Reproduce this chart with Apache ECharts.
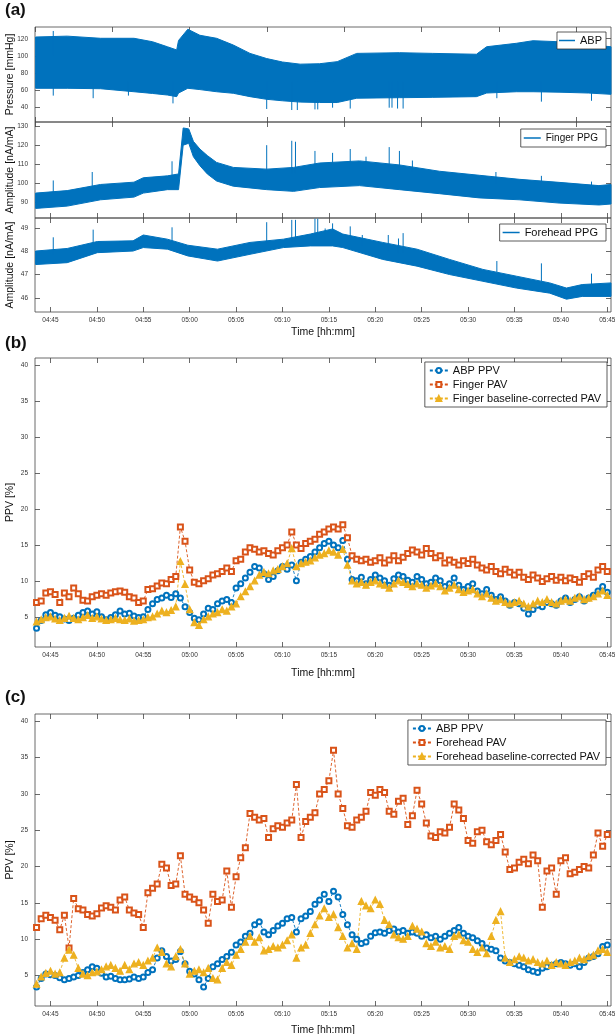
<!DOCTYPE html>
<html>
<head>
<meta charset="utf-8">
<script src="https://cdn.jsdelivr.net/npm/echarts@6/dist/echarts.min.js"></script>
<style>
  html, body { margin: 0; padding: 0; background: #fff; }
  #chart { width: 615px; height: 1034px; }
</style>
</head>
<body>
<div id="chart"></div>
<script>
// all times are minutes after midnight (04:45 -> 285)
const tStart = 283.333, tEnd = 345.4;
const clockTicks = [285, 290, 295, 300, 305, 310, 315, 320, 325, 330, 335, 340, 345];
const coarseTicks = [283.333, 291.667, 300, 308.333, 316.667, 325, 333.333, 341.667];

// (a) raw signals: upper / lower envelope of the dense waveforms
const abpTime  = [283.4, 286.8, 290.4, 294.0, 296.0, 297.6, 298.6, 298.8, 299.8, 301.1, 302.9, 304.7, 306.5, 308.3, 310.0, 311.9, 314.0, 315.9, 318.0, 322.6, 326.2, 330.9, 332.0, 335.2, 337.0, 339.8, 343.0, 345.4];
const abpUpper = [122, 123, 120.5, 120.5, 116.5, 110.7, 107, 118, 131, 124, 120.5, 112.7, 103, 97, 93, 90.5, 91, 93.4, 103, 103.8, 103, 102, 110.7, 114.7, 117.7, 116.5, 113, 110.7];
const abpLower = [62.5, 62.5, 62, 58.5, 56.5, 54.7, 52.8, 57, 62.5, 61, 58.5, 56.7, 52.8, 49.7, 48, 46.5, 46, 46, 51, 51.6, 52, 52.8, 57, 58.5, 58.5, 58, 57, 55.5];
// spikes: [time, from, to]
const abpSpikes = [[285.3, 100, 129], [285.3, 70, 54], [289.6, 70, 51], [293.4, 70, 54], [298.2, 70, 45], [308.3, 70, 38.5], [311.0, 70, 37.3], [311.6, 70, 37.3], [313.5, 70, 38], [313.8, 70, 38], [315.4, 70, 40], [317.3, 70, 39], [321.5, 70, 40], [321.8, 70, 40], [322.4, 70, 39], [323.0, 70, 39], [333.1, 70, 51], [337.9, 70, 47], [343.3, 70, 48]];

const fingerTime  = [283.4, 286.8, 290.4, 294.0, 295.0, 297.6, 298.8, 299.3, 299.9, 300.4, 301.1, 301.9, 302.9, 304.7, 308.3, 311.2, 314.0, 318.3, 322.6, 326.9, 331.2, 335.5, 339.8, 344.1, 345.4];
const fingerUpper = [95, 96.3, 99.5, 100.7, 103, 104, 105, 129, 128.5, 122, 118, 114.6, 111, 108.4, 107.5, 108.4, 110.7, 111.8, 109.7, 106.4, 104.3, 102.2, 100.6, 98.9, 99.5];
const fingerLower = [87, 88.2, 91.5, 92.9, 95, 96.8, 96.8, 120, 121, 114, 109.3, 105, 101.3, 98.6, 96.8, 95.9, 97.9, 98.9, 96.8, 94.7, 92.5, 91.5, 89.8, 88.8, 89.3];
const fingerSpikes = [[285.3, 94, 101.6], [289.5, 97, 106], [298.1, 102, 111.6], [308.3, 105, 120], [311.0, 105, 122.3], [311.4, 105, 121.8], [313.5, 108, 117], [315.4, 108, 116], [317.3, 108, 118], [319.0, 108, 114], [321.5, 106, 119], [322.6, 106, 117], [324.0, 106, 112], [333.0, 100, 106], [337.9, 98, 104], [343.3, 96, 101]];

const foreheadTime  = [283.4, 286.8, 290.05, 293.9, 295.0, 297.6, 299.8, 303.0, 306.5, 310.1, 313.0, 315.4, 316.5, 320.8, 324.5, 328.0, 331.6, 335.2, 338.8, 340.6, 342.3, 345.4];
const foreheadUpper = [48.01, 48.12, 48.42, 48.45, 48.7, 48.52, 48.26, 48.09, 48.38, 48.52, 48.74, 48.96, 48.74, 48.38, 48.09, 47.65, 47.22, 46.93, 46.64, 46.42, 46.57, 46.64];
const foreheadLower = [47.43, 47.51, 47.94, 48.01, 48.16, 48.09, 47.8, 47.58, 47.87, 48.16, 48.23, 48.23, 48.16, 47.65, 47.36, 47.0, 46.71, 46.42, 46.2, 45.94, 46.06, 46.06];
const foreheadSpikes = [[285.3, 47.8, 48.6], [289.6, 48.2, 48.93], [298.1, 48.3, 49.03], [308.3, 48.3, 49.25], [311.0, 48.4, 49.35], [311.4, 48.4, 49.35], [313.5, 48.5, 49.4], [313.8, 48.5, 49.4], [314.6, 48.5, 48.98], [315.4, 48.5, 49.2], [317.3, 48.4, 49.07], [318.6, 48.2, 48.7], [321.4, 48.0, 48.7], [322.5, 47.9, 48.55], [323.0, 47.9, 48.78], [333.1, 47.1, 47.58], [337.9, 46.7, 47.48], [343.3, 46.3, 47.04]];

// (b), (c) variation indices, one value every 30 s from 04:43:30
const ppvStart = 283.5, ppvStep = 0.5;
const abpPpvB = [3.4, 4.5, 5.3, 5.6, 5.2, 5.0, 4.7, 4.5, 4.8, 5.2, 5.6, 5.8, 5.4, 5.7, 5.0, 4.6, 4.9, 5.3, 5.8, 5.4, 5.5, 5.1, 4.9, 5.0, 6.0, 6.8, 7.4, 7.6, 8.0, 7.7, 8.2, 7.6, 6.4, 5.6, 4.8, 4.6, 5.4, 6.2, 6.0, 6.8, 7.2, 7.4, 7.0, 9.0, 9.6, 10.4, 11.2, 12.0, 11.8, 11.0, 10.2, 10.6, 11.4, 12.0, 11.6, 12.2, 10.0, 12.6, 13.0,
  13.4, 14.0, 14.6, 15.2, 15.5, 15.0, 14.6, 15.6, 13.0, 10.2, 10.0, 10.5, 9.6, 10.2, 10.8, 10.4, 10.0, 9.4, 10.3, 10.8, 10.6, 10.1, 9.8, 10.6, 10.2, 9.6, 9.8, 10.4, 10.0, 9.2, 9.6, 10.4, 9.4, 8.8, 9.2, 9.6, 8.6, 8.2, 8.8, 8.0, 7.4, 7.8, 7.2, 6.6, 7.0, 6.8, 6.2, 5.4, 6.0, 6.6, 6.4, 7.0, 6.8, 6.6, 7.2, 7.6, 7.0, 7.4, 7.8, 7.2, 7.6, 8.0, 8.6, 9.2, 8.4];
const fingerPav = [7.0, 7.2, 8.3, 8.5, 8.1, 7.0, 8.3, 7.8, 9.0, 8.2, 7.3, 7.2, 7.8, 8.0, 8.2, 8.0, 8.3, 8.5, 8.6, 8.4, 7.8, 7.6, 7.0, 7.2, 8.8, 8.9, 9.3, 9.7, 9.6, 10.2, 10.6, 17.5, 15.5, 11.5, 9.8, 9.6, 10.0, 10.3, 10.8, 11.0, 11.3, 11.8, 11.3, 12.8, 13.0, 14.0, 14.6, 14.4, 14.0, 14.2, 13.8, 13.6, 14.2, 14.6, 15.0, 16.8, 15.0, 14.5, 15.2,
  15.5, 15.8, 16.5, 16.8, 17.2, 17.5, 17.2, 17.8, 16.0, 13.5, 13.0, 12.8, 13.0, 12.6, 12.8, 13.2, 12.5, 12.9, 13.5, 12.8, 13.3, 13.8, 14.3, 14.0, 13.6, 14.5, 13.8, 13.2, 13.5, 12.5, 12.9, 12.6, 12.2, 12.8, 12.4, 13.0, 12.2, 11.8, 11.5, 12.0, 11.3, 11.0, 11.6, 11.2, 10.8, 11.2, 10.5, 10.2, 10.8, 10.4, 9.9, 10.3, 10.6, 10.1, 10.5, 10.0, 10.4, 10.2, 9.8, 10.6, 11.0, 10.5, 11.5, 12.0, 11.3];
const fingerCorr = [4.3, 4.6, 4.9, 5.0, 4.7, 4.5, 4.8, 5.1, 4.8, 4.6, 4.9, 5.2, 4.8, 5.0, 4.7, 4.5, 4.6, 4.8, 4.6, 4.5, 4.7, 4.4, 4.5, 4.6, 4.9, 5.0, 5.4, 5.8, 5.6, 5.9, 6.4, 12.7, 9.5, 6.0, 4.2, 3.8, 4.6, 5.0, 5.4, 5.6, 6.0, 5.8, 6.4, 6.8, 7.8, 8.5, 9.2, 10.0, 10.8, 11.2, 11.0, 11.4, 11.6, 12.0, 12.4, 14.5, 12.0, 12.4, 12.6,
  12.8, 13.2, 13.6, 13.8, 14.2, 14.0, 13.6, 14.4, 12.2, 10.0, 9.6, 9.8, 9.4, 9.8, 10.0, 9.6, 9.4, 9.0, 9.6, 10.0, 9.8, 9.5, 9.2, 9.6, 9.4, 9.0, 9.3, 9.6, 9.2, 8.6, 9.0, 9.4, 8.8, 8.4, 8.6, 8.8, 8.2, 7.8, 8.2, 7.6, 7.2, 7.4, 7.0, 6.8, 7.0, 7.2, 6.8, 6.4, 6.8, 7.2, 7.0, 7.4, 7.0, 6.8, 7.2, 7.4, 7.2, 7.6, 7.8, 7.4, 7.6, 7.8, 8.2, 8.6, 8.0];

const abpPpvC = [3.4, 4.6, 5.2, 5.1, 5.0, 4.7, 4.4, 4.6, 4.8, 5.0, 5.4, 5.8, 6.2, 6.0, 5.3, 4.8, 4.9, 4.6, 4.4, 4.4, 4.5, 4.8, 4.6, 4.8, 5.4, 5.8, 7.4, 8.4, 7.6, 7.0, 7.2, 8.3, 6.6, 5.6, 5.2, 4.4, 3.4, 4.6, 6.2, 6.6, 7.2, 7.6, 8.2, 9.2, 9.6, 10.4, 10.8, 12.0, 12.4, 11.0, 10.6, 11.2, 11.8, 12.2, 12.8, 13.0, 11.0, 12.8, 13.2,
  13.8, 14.8, 15.4, 16.2, 15.2, 16.6, 15.8, 13.4, 12.0, 10.6, 10.0, 9.4, 9.6, 10.4, 10.9, 11.0, 10.8, 11.2, 11.4, 11.0, 11.2, 10.8, 11.0, 10.8, 10.4, 10.6, 10.2, 10.4, 10.0, 10.4, 10.8, 11.2, 11.6, 10.8, 10.4, 10.2, 9.8, 9.4, 8.8, 8.6, 8.4, 7.4, 7.0, 6.8, 6.6, 6.4, 6.2, 5.8, 5.6, 5.4, 6.0, 6.2, 6.4, 6.6, 6.8, 6.6, 6.4, 6.6, 6.2, 6.8, 7.4, 7.6, 8.0, 9.0, 9.2];
const foreheadPav = [11.6, 12.8, 13.3, 13.0, 12.6, 11.3, 13.3, 8.8, 15.6, 14.2, 14.0, 13.4, 13.2, 13.5, 14.3, 14.6, 14.4, 14.0, 15.4, 15.8, 14.0, 13.6, 13.4, 11.6, 16.4, 17.0, 17.6, 20.3, 19.8, 17.4, 17.6, 21.5, 16.2, 15.8, 15.5, 15.0, 14.0, 12.2, 16.2, 15.2, 15.4, 19.4, 14.4, 18.6, 21.2, 22.6, 27.3, 26.8, 26.4, 26.6, 24.0, 25.2, 25.6, 25.4, 26.0, 26.4, 31.3, 24.0, 26.2,
  26.8, 27.4, 30.0, 30.6, 31.8, 36.0, 30.0, 28.0, 25.6, 25.4, 26.4, 26.8, 27.6, 30.2, 29.8, 30.6, 30.2, 27.6, 27.2, 29.0, 29.4, 25.8, 27.0, 30.5, 28.6, 26.0, 24.2, 24.0, 24.8, 24.6, 25.4, 28.6, 27.8, 26.6, 23.6, 23.2, 24.8, 25.0, 23.4, 23.0, 23.6, 24.4, 22.0, 19.6, 19.8, 20.6, 21.0, 20.4, 21.6, 20.8, 14.4, 19.4, 19.8, 16.2, 20.8, 21.2, 19.0, 19.2, 19.6, 20.0, 19.8, 21.6, 24.6, 22.8, 24.4];
const foreheadCorr = [3.8, 4.8, 5.3, 5.6, 5.2, 5.4, 7.4, 8.5, 7.8, 6.0, 5.2, 5.0, 5.4, 5.5, 5.8, 6.2, 6.4, 6.0, 5.6, 6.4, 5.8, 6.6, 6.8, 6.4, 7.0, 7.4, 8.8, 8.2, 6.6, 6.2, 7.6, 8.6, 6.6, 5.2, 5.6, 5.8, 5.4, 6.0, 4.6, 4.4, 6.0, 6.8, 6.4, 7.8, 8.6, 9.6, 10.4, 9.6, 10.2, 8.4, 8.6, 9.0, 8.8, 9.2, 9.8, 10.6, 7.4, 8.8, 9.2,
  10.8, 12.0, 13.2, 14.2, 13.0, 13.4, 11.6, 10.4, 8.8, 9.4, 8.6, 15.2, 14.6, 14.2, 15.4, 14.8, 12.6, 12.0, 10.6, 10.2, 10.0, 10.4, 11.8, 11.4, 11.0, 9.4, 9.0, 9.6, 8.8, 9.0, 8.6, 10.4, 10.6, 9.8, 9.6, 8.6, 8.2, 8.8, 8.0, 10.4, 12.6, 13.8, 7.4, 6.8, 7.2, 7.6, 7.4, 7.0, 7.2, 6.8, 6.6, 7.0, 6.4, 6.8, 6.6, 6.4, 6.8, 7.0, 7.4, 7.2, 7.6, 7.8, 8.4, 8.6, 8.2];

const BLUE = '#0072BD', ORANGE = '#D95319', YELLOW = '#EDB120';
const FONT = '"Liberation Sans", Arial, sans-serif';

const pad = n => (n < 10 ? '0' : '') + n;
const clock = v => {
  const h = Math.floor(v / 60);
  const m = Math.round(v - h * 60);
  return pad(h) + ':' + pad(m);
};
const zip = (xs, ys) => xs.map((x, i) => [x, ys[i]]);
const ppvTime = abpPpvB.map((_, i) => ppvStart + i * ppvStep);

const grids = [
  { left: 35, top: 27, width: 576, height: 95 },
  { left: 35, top: 122, width: 576, height: 96 },
  { left: 35, top: 218, width: 576, height: 94 },
  { left: 35, top: 358, width: 576, height: 289 },
  { left: 35, top: 714, width: 576, height: 292 }
].map(g => ({
  ...g, show: true, containLabel: false, outerBoundsMode: 'none',
  borderColor: '#444', borderWidth: 0.8, backgroundColor: 'transparent'
}));

const yRanges = [
  { min: 23.4, max: 133.6, ticks: [40, 60, 80, 100, 120], name: 'Pressure [mmHg]' },
  { min: 82, max: 132.1, ticks: [90, 100, 110, 120, 130], name: 'Amplitude [nA/mA]' },
  { min: 45.39, max: 49.43, ticks: [46, 47, 48, 49], name: 'Amplitude [nA/mA]' },
  { min: 0.8, max: 41, ticks: [5, 10, 15, 20, 25, 30, 35, 40], name: 'PPV [%]' },
  { min: 0.8, max: 41, ticks: [5, 10, 15, 20, 25, 30, 35, 40], name: 'PPV [%]' }
];
const xTicks = [
  [coarseTicks, coarseTicks],
  [coarseTicks, clockTicks],
  [clockTicks, clockTicks],
  [clockTicks, clockTicks],
  [clockTicks, clockTicks]
];
const xLabelled = [false, false, true, true, true];
const timeNameGap = [0, 0, 15, 21, 19];

const xAxis = [];
const yAxis = [];
grids.forEach((g, i) => {
  const bottom = {
    type: 'value', gridIndex: i, position: 'bottom', min: tStart, max: tEnd,
    axisLine: { show: false }, splitLine: { show: false },
    axisTick: { show: true, inside: true, length: 5, customValues: xTicks[i][1], lineStyle: { color: '#444', width: 0.8 } },
    axisLabel: { show: xLabelled[i], customValues: clockTicks, formatter: clock, fontSize: 6.5, color: '#333', fontFamily: FONT, margin: 5 }
  };
  if (xLabelled[i]) {
    bottom.name = 'Time [hh:mm]';
    bottom.nameLocation = 'middle';
    bottom.nameGap = timeNameGap[i];
    bottom.nameMoveOverlap = false;
    bottom.nameTextStyle = { fontSize: 10.5, color: '#111', fontFamily: FONT };
  }
  xAxis.push(bottom);
  xAxis.push({
    type: 'value', gridIndex: i, position: 'top', min: tStart, max: tEnd,
    axisLine: { show: false }, splitLine: { show: false }, axisLabel: { show: false },
    axisTick: { show: true, inside: true, length: 5, customValues: xTicks[i][0], lineStyle: { color: '#444', width: 0.8 } }
  });
  const r = yRanges[i];
  yAxis.push({
    type: 'value', gridIndex: i, position: 'left', min: r.min, max: r.max,
    name: r.name, nameLocation: 'middle', nameGap: 19, nameMoveOverlap: false,
    nameTextStyle: { fontSize: 10.5, color: '#111', fontFamily: FONT },
    axisLine: { show: false }, splitLine: { show: false },
    axisTick: { show: true, inside: true, length: 5, customValues: r.ticks, lineStyle: { color: '#444', width: 0.8 } },
    axisLabel: { customValues: r.ticks, fontSize: 6.5, color: '#333', fontFamily: FONT, margin: 7 }
  });
  yAxis.push({
    type: 'value', gridIndex: i, position: 'right', min: r.min, max: r.max,
    axisLine: { show: false }, splitLine: { show: false }, axisLabel: { show: false },
    axisTick: { show: true, inside: true, length: 5, customValues: r.ticks, lineStyle: { color: '#444', width: 0.8 } }
  });
});

// filled band between lower and upper envelope, drawn as one polygon
const bandSeries = (name, idx, time, upper, lower) => ({
  name, type: 'custom', xAxisIndex: 2 * idx, yAxisIndex: 2 * idx, silent: true, animation: false,
  itemStyle: { color: BLUE },
  encode: { x: 0, y: [1, 2] },
  data: time.map((t, i) => [t, lower[i], upper[i]]),
  renderItem: (params, api) => {
    if (params.dataIndexInside !== 0) return null;
    const n = params.dataInsideLength;
    const top = [], bottom = [];
    for (let k = 0; k < n; k++) {
      const t = api.value(0, k);
      top.push(api.coord([t, api.value(2, k)]));
      bottom.push(api.coord([t, api.value(1, k)]));
    }
    return {
      type: 'polygon',
      shape: { points: top.concat(bottom.reverse()) },
      style: { fill: BLUE, stroke: BLUE, lineWidth: 1 }
    };
  }
});

const spikeSeries = (idx, spikes) => ({
  type: 'custom', xAxisIndex: 2 * idx, yAxisIndex: 2 * idx, silent: true, animation: false,
  encode: { x: 0, y: [1, 2] },
  renderItem: (params, api) => {
    const p0 = api.coord([api.value(0), api.value(1)]);
    const p1 = api.coord([api.value(0), api.value(2)]);
    return { type: 'line', shape: { x1: p0[0], y1: p0[1], x2: p1[0], y2: p1[1] }, style: { stroke: BLUE, lineWidth: 1 } };
  },
  data: spikes
});

const ppvSeries = (name, idx, values, color, symbol, size) => ({
  name, type: 'line', xAxisIndex: 2 * idx, yAxisIndex: 2 * idx,
  data: zip(ppvTime, values), color, symbol, symbolSize: size, animation: false,
  showAllSymbol: true,
  lineStyle: { color, width: 0.9, type: [3, 2] },
  itemStyle: { color, borderColor: color, borderWidth: 1.3 }
});

const legendBox = {
  orient: 'vertical', backgroundColor: '#fff', borderColor: '#333', borderWidth: 0.8,
  textStyle: { fontSize: 11, color: '#111', fontFamily: FONT }, selectedMode: false
};
const lineIcon = name => ({ name, icon: 'rect' });

const option = {
  animation: false,
  grid: grids,
  xAxis,
  yAxis,
  legend: [
    { ...legendBox, data: [lineIcon('ABP')], right: 9, top: 32, padding: [3, 4, 3, 2], itemWidth: 16, itemHeight: 1.5, itemGap: 2 },
    { ...legendBox, data: [lineIcon('Finger PPG')], right: 9, top: 129, padding: [4, 8, 4, 3], itemWidth: 17, itemHeight: 1.5, itemGap: 2, textStyle: { ...legendBox.textStyle, fontSize: 10 } },
    { ...legendBox, data: [lineIcon('Forehead PPG')], right: 9, top: 224, padding: [3, 8, 3, 3], itemWidth: 17, itemHeight: 1.5, itemGap: 2 },
    { ...legendBox, data: ['ABP PPV', 'Finger PAV', 'Finger baseline-corrected PAV'], right: 8, top: 362, padding: [3, 6, 3, 4], itemGap: 3, itemWidth: 18, itemHeight: 6 },
    { ...legendBox, data: ['ABP PPV', 'Forehead PAV', 'Forehead baseline-corrected PAV'], right: 9, top: 720, padding: [3, 6, 3, 4], itemGap: 3, itemWidth: 18, itemHeight: 6 }
  ],
  graphic: [
    { type: 'text', left: 5, top: 2, style: { text: '(a)', font: 'bold 17px ' + FONT, fill: '#111' } },
    { type: 'text', left: 5, top: 335, style: { text: '(b)', font: 'bold 17px ' + FONT, fill: '#111' } },
    { type: 'text', left: 5, top: 689, style: { text: '(c)', font: 'bold 17px ' + FONT, fill: '#111' } }
  ],
  series: [
    bandSeries('ABP', 0, abpTime, abpUpper, abpLower),
    spikeSeries(0, abpSpikes),
    bandSeries('Finger PPG', 1, fingerTime, fingerUpper, fingerLower),
    spikeSeries(1, fingerSpikes),
    bandSeries('Forehead PPG', 2, foreheadTime, foreheadUpper, foreheadLower),
    spikeSeries(2, foreheadSpikes),
    ppvSeries('ABP PPV', 3, abpPpvB, BLUE, 'emptyCircle', 5),
    ppvSeries('Finger PAV', 3, fingerPav, ORANGE, 'emptyRect', 5),
    ppvSeries('Finger baseline-corrected PAV', 3, fingerCorr, YELLOW, 'triangle', 6),
    ppvSeries('ABP PPV', 4, abpPpvC, BLUE, 'emptyCircle', 5),
    ppvSeries('Forehead PAV', 4, foreheadPav, ORANGE, 'emptyRect', 5),
    ppvSeries('Forehead baseline-corrected PAV', 4, foreheadCorr, YELLOW, 'triangle', 6)
  ]
};

const chart = echarts.init(document.getElementById('chart'), null, { renderer: 'canvas' });
chart.setOption(option);
</script>
</body>
</html>
